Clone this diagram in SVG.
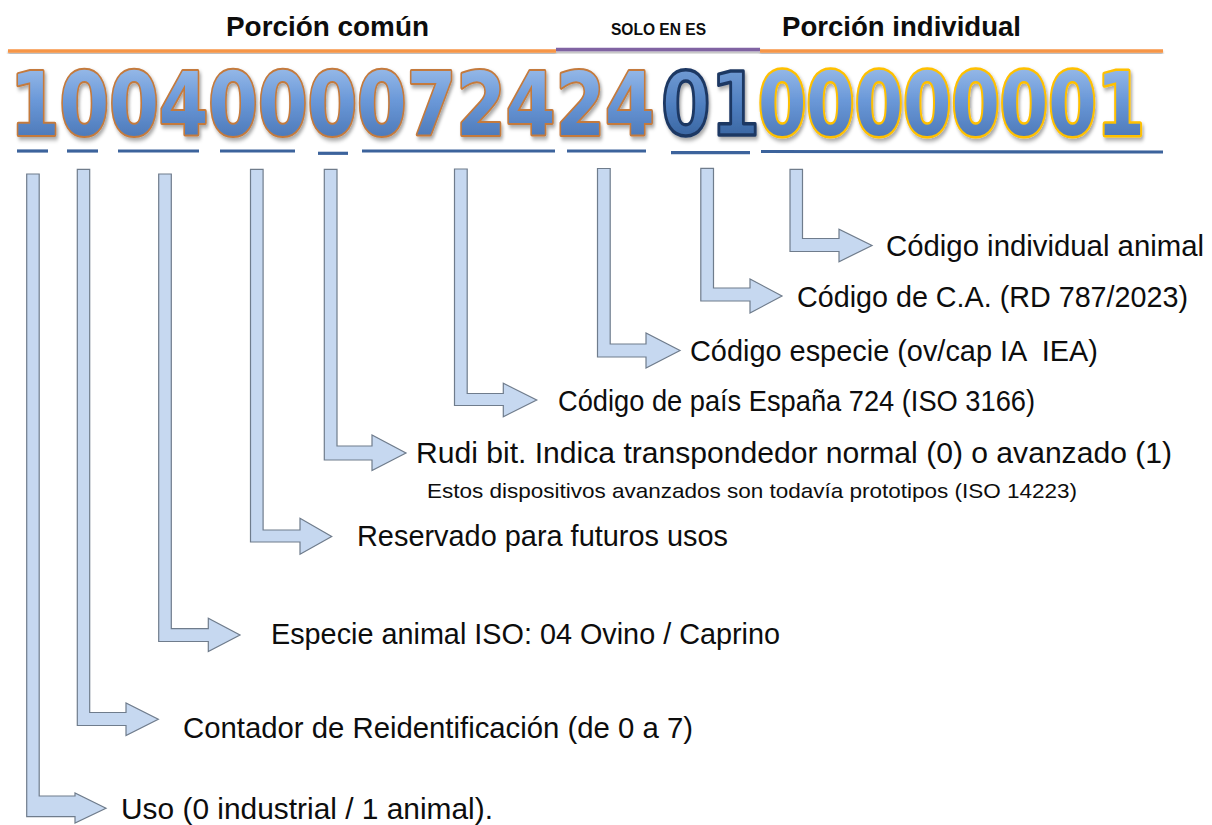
<svg xmlns="http://www.w3.org/2000/svg" width="1212" height="825" viewBox="0 0 1212 825">
<defs>
<style>
.lbl{font-family:"Liberation Sans",Arial,sans-serif;font-size:29px;fill:#0d0d0d}
.sub{font-family:"Liberation Sans",Arial,sans-serif;font-size:21px;fill:#0d0d0d}
.hdr{font-family:"Liberation Sans",Arial,sans-serif;font-weight:bold;fill:#0d0d0d}
.dig{font-family:"DejaVu Sans",sans-serif;font-weight:bold;font-size:88px}
.arr{fill:#c6d8f0;stroke:#6f7c8c;stroke-width:1.2;stroke-linejoin:miter}
.ul{stroke:#3c639c;stroke-width:3.2;fill:none}
</style>
<linearGradient id="gFill" x1="0" y1="0" x2="0" y2="1">
<stop offset="0" stop-color="#a9c7ee"/>
<stop offset="0.45" stop-color="#6b99d9"/>
<stop offset="1" stop-color="#3f6aa9"/>
</linearGradient>
<linearGradient id="gDark" x1="0" y1="0" x2="0" y2="1">
<stop offset="0" stop-color="#7fa6dc"/>
<stop offset="0.5" stop-color="#4f7fc0"/>
<stop offset="1" stop-color="#2f5890"/>
</linearGradient>
<filter id="dsh" x="-10%" y="-30%" width="120%" height="170%">
<feDropShadow dx="2" dy="3" stdDeviation="2" flood-color="#000" flood-opacity="0.35"/>
</filter>
<filter id="lsh" x="-2%" y="-200%" width="104%" height="500%">
<feDropShadow dx="0" dy="2" stdDeviation="1.2" flood-color="#000" flood-opacity="0.3"/>
</filter>
</defs>
<rect width="1212" height="825" fill="#ffffff"/>

<g id="header">
<g filter="url(#lsh)">
<line x1="8" y1="51" x2="556" y2="51" stroke="#f79646" stroke-width="3.6"/>
<line x1="556" y1="49.5" x2="760" y2="49.5" stroke="#8064a2" stroke-width="3.6"/>
<line x1="760" y1="51" x2="1163" y2="51" stroke="#f79646" stroke-width="3.6"/>
</g>
<text class="hdr" x="226" y="36" font-size="28" textLength="203" lengthAdjust="spacingAndGlyphs">Porción común</text>
<text class="hdr" x="611" y="34.5" font-size="16.5" textLength="95" lengthAdjust="spacingAndGlyphs">SOLO EN ES</text>
<text class="hdr" x="782" y="36" font-size="28" textLength="239" lengthAdjust="spacingAndGlyphs">Porción individual</text>
</g>

<g id="digits" class="dig">
<g transform="translate(10,135) scale(0.81,1)" filter="url(#dsh)">
<text x="0" y="0" fill="url(#gFill)" stroke="#c47a3c" stroke-width="4" stroke-linejoin="round" paint-order="stroke">1004000072424</text>
</g>
<g transform="translate(661,135) scale(0.81,1)" filter="url(#dsh)">
<text x="0" y="0" fill="url(#gDark)" stroke="#1f3864" stroke-width="3.5" stroke-linejoin="round">01</text>
</g>
<g transform="translate(758,135) scale(0.79,1)" filter="url(#dsh)">
<text x="0" y="0" fill="url(#gFill)" stroke="#ffc000" stroke-width="5" stroke-linejoin="round" paint-order="stroke">00000001</text>
</g>
</g>

<g id="underlines" class="ul">
<line x1="17" y1="151" x2="48" y2="151"/>
<line x1="67" y1="151" x2="98" y2="151"/>
<line x1="118" y1="151" x2="199" y2="151"/>
<line x1="220" y1="151" x2="295" y2="151"/>
<line x1="318" y1="153.3" x2="348" y2="153.3"/>
<line x1="362" y1="151" x2="555" y2="151"/>
<line x1="567" y1="151" x2="646" y2="151"/>
<line x1="671" y1="152.7" x2="750" y2="152.7"/>
<line x1="761" y1="151.5" x2="1163" y2="152"/>
</g>

<g id="connectors">
<path class="arr" d="M26.7,174 L39.2,174 L39.2,796 L75,796 L75,793 L106,808.3 L75,823 L75,816.7 L26.7,816.7 Z"/>
<path class="arr" d="M77.3,169.3 L89.7,169.3 L89.7,712.5 L126,712.5 L126,703 L158.3,719.3 L126,735.5 L126,725.5 L77.3,725.5 Z"/>
<path class="arr" d="M158.7,174 L171.3,174 L171.3,628.7 L208.3,628.7 L208.3,618.3 L240,635 L208.3,651.5 L208.3,641.5 L158.7,641.5 Z"/>
<path class="arr" d="M250.5,169.3 L263.1,169.3 L263.1,530 L300,530 L300,518.3 L331.7,536.5 L300,554.3 L300,542 L250.5,542 Z"/>
<path class="arr" d="M324.3,169.3 L337,169.3 L337,446 L372,446 L372,435 L406,453 L372,470.5 L372,460 L324.3,460 Z"/>
<path class="arr" d="M454.5,169 L467.2,169 L467.2,393.5 L503.3,393.5 L503.3,383.3 L536.7,400 L503.3,416.7 L503.3,405.5 L454.5,405.5 Z"/>
<path class="arr" d="M597.5,168.5 L610.2,168.5 L610.2,344 L646,344 L646,333 L680,350.5 L646,368 L646,357 L597.5,357 Z"/>
<path class="arr" d="M700.8,168.3 L713.5,168.3 L713.5,288 L750,288 L750,279 L782,296 L750,313 L750,301 L700.8,301 Z"/>
<path class="arr" d="M790,169.3 L802.5,169.3 L802.5,238.5 L839,238.5 L839,229.3 L872,245.5 L839,261.7 L839,251.5 L790,251.5 Z"/>
</g>

<g id="n-individual"><text class="lbl" x="886" y="256" textLength="318" lengthAdjust="spacingAndGlyphs">Código individual animal</text></g>
<g id="n-ca"><text class="lbl" x="797" y="307" textLength="391" lengthAdjust="spacingAndGlyphs">Código de C.A. (RD 787/2023)</text></g>
<g id="n-especie-codigo"><text class="lbl" x="690" y="361" textLength="408" lengthAdjust="spacingAndGlyphs" xml:space="preserve">Código especie (ov/cap IA  IEA)</text></g>
<g id="n-pais"><text class="lbl" x="558" y="411" textLength="477" lengthAdjust="spacingAndGlyphs">Código de país España 724 (ISO 3166)</text></g>
<g id="n-rudi">
<text class="lbl" x="416" y="463" textLength="756" lengthAdjust="spacingAndGlyphs">Rudi bit. Indica transpondedor normal (0) o avanzado (1)</text>
<text class="sub" x="427" y="498" textLength="650" lengthAdjust="spacingAndGlyphs">Estos dispositivos avanzados son todavía prototipos (ISO 14223)</text>
</g>
<g id="n-reservado"><text class="lbl" x="357" y="546" textLength="371" lengthAdjust="spacingAndGlyphs">Reservado para futuros usos</text></g>
<g id="n-especie-animal"><text class="lbl" x="271" y="644" textLength="509" lengthAdjust="spacingAndGlyphs">Especie animal ISO: 04 Ovino / Caprino</text></g>
<g id="n-contador"><text class="lbl" x="183" y="738" textLength="510" lengthAdjust="spacingAndGlyphs">Contador de Reidentificación (de 0 a 7)</text></g>
<g id="n-uso"><text class="lbl" x="121" y="819" textLength="372" lengthAdjust="spacingAndGlyphs">Uso (0 industrial / 1 animal).</text></g>
</svg>
